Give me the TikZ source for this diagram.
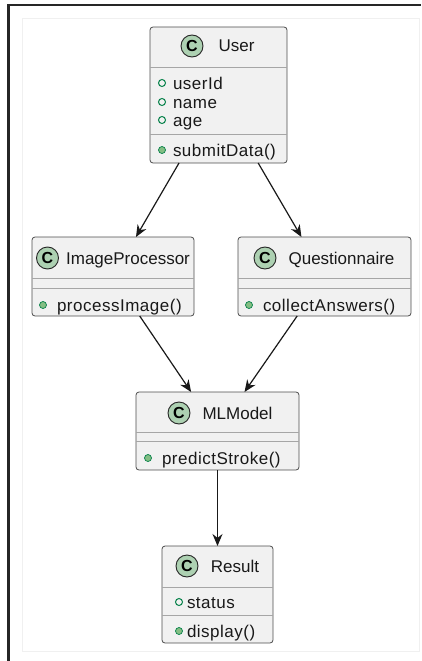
\documentclass[tikz,border=0pt]{standalone}
\usepackage{fontspec}
\setmainfont{Liberation Sans}
\newfontfamily\memberfont{Liberation Sans}[LetterSpace=3]
\usetikzlibrary{arrows.meta}

\definecolor{boxfill}{HTML}{F1F1F1}
\definecolor{spotfill}{HTML}{ADD1B2}
\definecolor{iconline}{HTML}{038048}
\definecolor{iconfill}{HTML}{84BE84}

\begin{document}
\begin{tikzpicture}
  [x=1pt,y=-1pt,every node/.style={inner sep=0pt,outer sep=0pt},
   classbox/.style={draw=black!70,fill=boxfill,rounded corners=3pt,line width=.8pt},
   spot/.style={circle,draw=black!85,fill=spotfill,line width=.9pt,minimum size=22pt,
     font=\fontsize{16}{18}\selectfont\bfseries},
   title/.style={anchor=base,text=black!90,font=\fontsize{17}{20}\selectfont},
   field/.style={circle,draw=iconline,line width=1pt,minimum size=7pt},
   method/.style={circle,draw=iconline,fill=iconfill,line width=.7pt,minimum size=7pt},
   member/.style={anchor=base west,text=black!90,font=\fontsize{17}{20}\memberfont},
   sep/.style={draw=black!35,line width=.8pt},
   link/.style={draw=black!90,line width=1.2pt,-{Stealth[length=12pt,width=10pt]}}]

  \useasboundingbox (0,0) rectangle (421,661);
  \draw [black!6] (22,18) rectangle (419,651);
  \draw [black!85,line width=2.2pt] (8.5,661) -- (8.5,5) -- (421,5);

  % class boxes
  \node [classbox,minimum width=137pt,minimum height=136pt] (user) at (218.5,95) {};
  \node [classbox,minimum width=162pt,minimum height=79pt] (imgproc) at (113,276.5) {};
  \node [classbox,minimum width=173pt,minimum height=79pt] (quest) at (324.5,276.5) {};
  \node [classbox,minimum width=163pt,minimum height=78pt] (mlmodel) at (217.5,431) {};
  \node [classbox,minimum width=111pt,minimum height=97pt] (result) at (217.5,594.5) {};

  % compartments
  \draw [sep] ([yshift=-40pt]user.north west) -- ([yshift=-40pt]user.north east);
  \draw [sep] ([yshift=-107pt]user.north west) -- ([yshift=-107pt]user.north east);
  \draw [sep] ([yshift=-41pt]imgproc.north west) -- ([yshift=-41pt]imgproc.north east);
  \draw [sep] ([yshift=-51pt]imgproc.north west) -- ([yshift=-51pt]imgproc.north east);
  \draw [sep] ([yshift=-41pt]quest.north west) -- ([yshift=-41pt]quest.north east);
  \draw [sep] ([yshift=-51pt]quest.north west) -- ([yshift=-51pt]quest.north east);
  \draw [sep] ([yshift=-40pt]mlmodel.north west) -- ([yshift=-40pt]mlmodel.north east);
  \draw [sep] ([yshift=-49pt]mlmodel.north west) -- ([yshift=-49pt]mlmodel.north east);
  \draw [sep] ([yshift=-41pt]result.north west) -- ([yshift=-41pt]result.north east);
  \draw [sep] ([yshift=-69pt]result.north west) -- ([yshift=-69pt]result.north east);

  % headers
  \node [spot] (user-c) at (192,46) {C};
  \node [title] (user-t) at (236.5,52) {User};
  \node [spot] (imgproc-c) at (47.5,258) {C};
  \node [title] (imgproc-t) at (128,264) {ImageProcessor};
  \node [spot] (quest-c) at (265,258) {C};
  \node [title] (quest-t) at (341.5,264) {Questionnaire};
  \node [spot] (mlmodel-c) at (179,413) {C};
  \node [title] (mlmodel-t) at (237.5,419) {MLModel};
  \node [spot] (result-c) at (187,566) {C};
  \node [title] (result-t) at (235,572) {Result};

  % members
  \node [field] (user-f1) at (162,83) {};
  \node [member] (user-a1) at (173,89) {userId};
  \node [field] (user-f2) at (162,102) {};
  \node [member] (user-a2) at (173,108) {name};
  \node [field] (user-f3) at (162,120) {};
  \node [member] (user-a3) at (173,126) {age};
  \node [method] (user-m1) at (162,150) {};
  \node [member] (user-o1) at (173,156) {submitData()};
  \node [method] (imgproc-m1) at (43,305) {};
  \node [member] (imgproc-o1) at (57,311) {processImage()};
  \node [method] (quest-m1) at (249,305) {};
  \node [member] (quest-o1) at (263,311) {collectAnswers()};
  \node [method] (mlmodel-m1) at (148,458) {};
  \node [member] (mlmodel-o1) at (162,464) {predictStroke()};
  \node [field] (result-f1) at (179,602) {};
  \node [member] (result-a1) at (187,608) {status};
  \node [method] (result-m1) at (179,631) {};
  \node [member] (result-o1) at (187,637) {display()};

  \foreach \from/\to in {user/imgproc,user/quest,imgproc/mlmodel,quest/mlmodel,mlmodel/result}
    \draw [link] (\from) -- (\to);

\end{tikzpicture}
\end{document}
